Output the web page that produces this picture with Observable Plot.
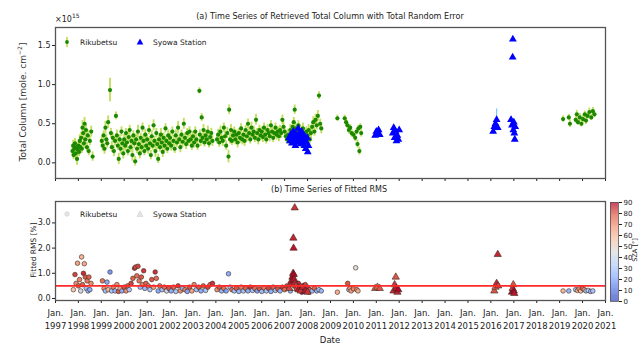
<!DOCTYPE html>
<html><head><meta charset="utf-8">
<script src="https://cdn.jsdelivr.net/npm/d3@7"></script>
<script src="https://cdn.jsdelivr.net/npm/@observablehq/plot@0.6"></script>
<style>
body{margin:0;background:#fff;font-family:"DejaVu Sans",sans-serif;}
#wrap{position:relative;width:640px;height:344px;overflow:hidden;background:#fff;}
.t{position:absolute;white-space:nowrap;color:#222;font-family:"DejaVu Sans",sans-serif;}
</style></head><body><div id="wrap"></div>
<script>
// ---------- DATA ----------
const tickYears = [1997,1998,1999,2000,2001,2002,2003,2004,2005,2006,2007,2008,2009,2010,2011,2012,2013,2014,2015,2016,2017,2018,2019,2020,2021];

// (a) Rikubetsu total column (x1e15 molec cm-2), decimal year
const rikYear = [1997.74,1997.77,1997.79,1997.82,1997.85,1997.88,1997.91,1997.94,1997.97,1998.00,1998.03,1998.06,1998.09,1998.12,1998.15,1998.18,1998.21,1998.24,1998.27,1998.30,1998.33,1998.37,1998.41,1998.45,1998.50,1998.56,1998.62,
1999.02,1999.06,1999.10,1999.14,1999.18,1999.22,1999.26,1999.30,1999.38,1999.42,1999.46,1999.50,1999.55,1999.60,1999.64,1999.68,1999.72,1999.76,1999.80,1999.84,1999.88,1999.92,1999.96,
2000.00,2000.04,2000.08,2000.12,2000.16,2000.20,2000.24,2000.28,2000.32,2000.36,2000.40,2000.44,2000.48,2000.52,2000.56,2000.60,2000.64,2000.68,2000.72,2000.76,2000.80,2000.84,2000.88,2000.92,2000.96,
2001.00,2001.04,2001.08,2001.12,2001.16,2001.20,2001.24,2001.28,2001.32,2001.36,2001.40,2001.44,2001.48,2001.52,2001.56,2001.60,2001.64,2001.68,2001.72,2001.76,2001.80,2001.84,2001.88,2001.92,2001.96,
2002.00,2002.05,2002.10,2002.15,2002.20,2002.25,2002.30,2002.35,2002.40,2002.45,2002.50,2002.55,2002.60,2002.65,2002.70,2002.75,2002.80,2002.85,2002.90,2002.95,
2003.00,2003.05,2003.10,2003.15,2003.20,2003.28,2003.30,2003.34,2003.38,2003.42,2003.46,2003.50,2003.55,2003.60,2003.65,2003.70,2003.75,2003.80,2003.85,
2004.05,2004.10,2004.15,2004.20,2004.25,2004.30,2004.35,2004.40,2004.45,2004.50,2004.55,2004.58,2004.62,2004.66,2004.70,2004.75,2004.80,2004.85,2004.90,2004.95,
2005.00,2005.05,2005.10,2005.15,2005.20,2005.25,2005.30,2005.35,2005.40,2005.45,2005.50,2005.55,2005.60,2005.65,2005.70,2005.75,2005.80,2005.85,2005.90,2005.95,
2006.00,2006.05,2006.10,2006.15,2006.20,2006.25,2006.30,2006.35,2006.40,2006.45,2006.50,2006.55,2006.60,2006.65,2006.70,2006.75,2006.80,2006.85,2006.90,2006.95,
2007.00,2007.05,2007.10,2007.15,2007.20,2007.25,2007.30,2007.35,2007.40,2007.44,2007.48,2007.52,2007.56,2007.60,2007.64,2007.68,2007.72,2007.76,2007.80,2007.85,2007.90,2007.95,
2008.00,2008.05,2008.10,2008.15,2008.20,2008.25,2008.30,2008.35,2008.40,2008.45,2008.50,2008.55,2008.60,
2009.30,2009.62,2009.68,2009.74,2009.80,2009.86,2009.92,2010.00,2010.08,2010.14,2010.18,2010.22,2010.26,2010.30,2010.34,
2019.15,2019.40,2019.45,2019.70,2019.75,2019.80,2019.88,2019.95,2020.02,2020.10,2020.15,2020.22,2020.30,2020.38,2020.45,2020.52];
const rikTC = [0.15,0.22,0.10,0.18,0.25,0.12,0.20,0.05,0.17,0.22,0.14,0.28,0.20,0.32,0.18,0.45,0.38,0.25,0.50,0.30,0.42,0.20,0.35,0.15,0.28,0.40,0.08,
0.28,0.22,0.35,0.18,0.45,0.30,0.25,0.52,0.93,0.38,0.20,0.32,0.15,0.28,0.60,0.35,0.22,0.05,0.30,0.18,0.40,0.25,0.12,
0.30,0.22,0.38,0.26,0.15,0.33,0.42,0.20,0.28,0.10,0.35,0.25,0.02,0.30,0.18,0.40,0.24,0.12,0.32,0.20,0.45,0.28,0.15,0.36,0.22,
0.30,0.18,0.42,0.25,0.10,0.34,0.22,0.48,0.28,0.15,0.38,0.24,0.05,0.30,0.20,0.36,0.26,0.14,0.32,0.22,0.44,0.28,0.18,0.35,0.25,
0.32,0.22,0.40,0.28,0.18,0.35,0.26,0.45,0.30,0.20,0.36,0.27,0.50,0.32,0.24,0.38,0.28,0.40,0.30,0.22,
0.34,0.26,0.40,0.30,0.22,0.92,0.36,0.28,0.58,0.32,0.42,0.26,0.35,0.30,0.40,0.25,0.33,0.38,0.28,
0.30,0.36,0.26,0.40,0.32,0.28,0.45,0.34,0.22,0.38,0.08,0.68,0.30,0.42,0.28,0.35,0.40,0.30,0.36,0.26,
0.38,0.32,0.44,0.30,0.36,0.28,0.42,0.34,0.50,0.38,0.30,0.45,0.36,0.40,0.32,0.55,0.38,0.30,0.42,0.35,
0.40,0.33,0.45,0.36,0.30,0.42,0.38,0.34,0.48,0.40,0.32,0.38,0.45,0.36,0.40,0.34,0.42,0.38,0.55,0.46,
0.40,0.34,0.30,0.36,0.28,0.42,0.38,0.46,0.52,0.68,0.44,0.36,0.40,0.48,0.34,0.42,0.38,0.30,0.44,0.36,0.28,0.40,
0.35,0.42,0.30,0.38,0.46,0.52,0.40,0.55,0.48,0.60,0.86,0.50,0.44,
0.57,0.57,0.52,0.48,0.42,0.45,0.38,0.36,0.32,0.40,0.24,0.44,0.15,0.46,0.38,
0.56,0.58,0.50,0.55,0.62,0.52,0.58,0.50,0.56,0.62,0.54,0.60,0.65,0.58,0.66,0.62];
const rikErr = [0.06,0.07,0.06,0.08,0.06,0.07,0.06,0.08,0.06,0.07,0.06,0.08,0.06,0.07,0.06,0.09,0.07,0.06,0.08,0.06,0.07,0.06,0.07,0.06,0.06,0.07,0.06,
0.06,0.07,0.06,0.07,0.08,0.06,0.06,0.08,0.15,0.06,0.07,0.06,0.07,0.06,0.05,0.07,0.06,0.07,0.06,0.07,0.06,0.06,0.07,
0.06,0.07,0.06,0.08,0.06,0.07,0.06,0.07,0.06,0.08,0.06,0.07,0.06,0.07,0.06,0.08,0.06,0.07,0.06,0.07,0.06,0.08,0.06,0.07,0.06,
0.06,0.07,0.06,0.08,0.06,0.07,0.06,0.07,0.06,0.08,0.06,0.07,0.06,0.07,0.06,0.08,0.06,0.07,0.06,0.07,0.06,0.08,0.06,0.07,0.06,
0.06,0.07,0.06,0.07,0.06,0.07,0.06,0.08,0.06,0.07,0.06,0.07,0.07,0.06,0.07,0.06,0.07,0.06,0.07,0.06,
0.06,0.07,0.06,0.07,0.06,0.04,0.06,0.07,0.05,0.06,0.07,0.06,0.07,0.06,0.07,0.06,0.07,0.06,0.07,
0.06,0.07,0.06,0.07,0.06,0.07,0.06,0.07,0.06,0.07,0.08,0.06,0.06,0.07,0.06,0.07,0.06,0.07,0.06,0.07,
0.06,0.07,0.06,0.07,0.06,0.07,0.06,0.07,0.06,0.07,0.06,0.07,0.06,0.07,0.06,0.07,0.06,0.07,0.06,0.07,
0.06,0.07,0.06,0.07,0.06,0.07,0.06,0.07,0.06,0.07,0.06,0.07,0.06,0.07,0.06,0.07,0.06,0.07,0.06,0.07,
0.06,0.07,0.06,0.07,0.06,0.07,0.06,0.07,0.06,0.06,0.07,0.06,0.07,0.06,0.07,0.06,0.07,0.06,0.07,0.06,0.07,0.06,
0.06,0.07,0.06,0.07,0.06,0.07,0.06,0.07,0.06,0.07,0.05,0.06,0.07,
0.04,0.04,0.05,0.04,0.05,0.04,0.05,0.04,0.05,0.04,0.05,0.04,0.05,0.04,0.05,
0.04,0.04,0.05,0.04,0.05,0.04,0.05,0.04,0.05,0.04,0.05,0.04,0.05,0.04,0.05,0.04];

// (a) Syowa Station total column
const syoYear = [2007.20,2007.23,2007.26,2007.29,2007.32,2007.35,2007.38,2007.41,2007.44,2007.47,2007.50,2007.53,2007.56,2007.59,2007.62,2007.65,2007.68,2007.71,2007.74,2007.77,2007.80,2007.83,2007.86,2007.89,2007.92,2007.95,2007.98,2008.01,2008.04,
2010.95,2011.00,2011.05,2011.10,2011.15,
2011.72,2011.76,2011.80,2011.84,2011.88,2011.92,2011.96,2012.00,
2016.10,2016.15,2016.20,2016.25,2016.30,
2016.88,2016.92,2016.95,2016.96,2016.98,2017.00,2017.02,2017.04,2017.06];
const syoTC = [0.32,0.28,0.36,0.30,0.25,0.34,0.40,0.28,0.32,0.22,0.36,0.30,0.26,0.44,0.33,0.38,0.30,0.24,0.40,0.34,0.28,0.36,0.22,0.30,0.18,0.26,0.32,0.14,0.22,
0.35,0.40,0.38,0.42,0.36,
0.38,0.45,0.32,0.40,0.28,0.35,0.30,0.42,
0.40,0.46,0.50,0.55,0.45,
0.55,0.48,1.35,1.58,0.42,0.52,0.38,0.30,0.46];
const syoErr = [0.03,0.03,0.04,0.03,0.03,0.04,0.03,0.03,0.04,0.03,0.03,0.04,0.03,0.03,0.04,0.03,0.03,0.04,0.03,0.03,0.04,0.03,0.03,0.04,0.03,0.03,0.04,0.03,0.03,
0.03,0.03,0.03,0.03,0.03,
0.03,0.03,0.03,0.03,0.03,0.03,0.03,0.03,
0.03,0.04,0.05,0.14,0.04,
0.04,0.03,0.03,0.03,0.03,0.04,0.03,0.03,0.04];

// (b) Fitted RMS [%] and colour value
const rikRmsYear = [1997.78,1997.85,1997.90,1997.96,1998.00,1998.05,1998.10,1998.14,1998.18,1998.22,1998.26,1998.30,1998.34,1998.38,1998.42,1998.46,1998.50,1998.55,
1999.05,1999.12,1999.18,1999.25,1999.30,1999.38,1999.45,1999.52,1999.60,1999.68,1999.75,1999.82,1999.90,
2000.00,2000.08,2000.15,2000.22,2000.30,2000.38,2000.45,2000.50,2000.55,2000.60,2000.65,2000.70,2000.75,2000.80,2000.85,2000.90,2000.95,
2001.05,2001.12,2001.20,2001.28,2001.35,2001.40,2001.48,2001.55,2001.65,2001.75,2001.85,2001.95,
2002.05,2002.15,2002.25,2002.35,2002.45,2002.55,2002.65,2002.75,2002.85,2002.95,
2003.05,2003.15,2003.25,2003.35,2003.45,2003.55,2003.65,2003.75,2003.85,
2004.05,2004.15,2004.25,2004.35,2004.45,2004.55,2004.62,2004.70,2004.80,2004.90,
2005.00,2005.10,2005.20,2005.30,2005.40,2005.50,2005.60,2005.70,2005.80,2005.90,
2006.00,2006.10,2006.20,2006.30,2006.40,2006.50,2006.60,2006.70,2006.80,2006.90,
2007.00,2007.10,2007.25,2007.50,2007.60,2007.65,2007.70,2007.75,2007.80,2007.85,2007.90,2007.95,
2008.00,2008.05,2008.10,2008.20,2008.30,2008.40,2008.50,2008.60,
2009.30,2009.75,2009.80,2009.85,2009.90,2010.00,2010.10,2010.15,2010.20,
2019.15,2019.40,2019.70,2019.78,2019.85,2019.92,2020.00,2020.08,2020.15,2020.25,2020.35,2020.45];
const rikRms = [0.35,0.95,0.60,1.40,0.50,0.75,0.30,1.65,0.55,1.00,1.38,0.85,0.40,0.70,0.30,0.85,0.35,0.60,
0.70,0.40,0.30,0.65,0.35,1.05,0.30,0.45,0.30,0.55,0.28,0.40,0.30,
0.45,0.30,0.50,0.35,0.60,0.80,1.20,1.25,0.90,1.28,0.70,0.45,0.85,0.55,1.10,0.40,0.60,
0.50,0.35,0.75,0.45,1.05,0.80,0.30,0.50,0.35,0.45,0.30,0.40,
0.30,0.45,0.28,0.50,0.30,0.40,0.35,0.28,0.45,0.30,
0.55,0.35,0.45,0.30,0.50,0.32,0.45,0.55,0.60,
0.35,0.45,0.30,0.40,0.30,0.98,0.45,0.35,0.30,0.40,
0.28,0.45,0.30,0.40,0.30,0.45,0.32,0.40,0.30,0.38,
0.28,0.42,0.30,0.40,0.28,0.45,0.32,0.38,0.30,0.45,
0.35,0.50,0.30,0.45,0.60,0.35,0.50,0.25,0.40,0.30,0.55,0.28,
0.45,0.25,0.35,0.30,0.40,0.30,0.35,0.30,
0.25,0.60,0.35,0.40,0.30,0.38,1.22,0.35,0.30,
0.30,0.30,0.35,0.32,0.38,0.30,0.40,0.35,0.30,0.32,0.28,0.30];
const rikSza = [55,82,70,66,75,72,40,60,78,85,64,80,30,74,25,78,22,70,
75,68,28,22,60,18,30,72,25,70,80,65,22,
80,70,76,30,82,78,84,80,76,82,74,28,80,72,84,25,78,
70,30,80,65,84,76,22,72,28,76,40,80,
22,78,30,82,70,25,74,20,80,65,
72,28,80,22,76,30,82,78,84,
70,80,25,74,20,22,30,76,28,80,
24,72,30,78,22,84,28,76,20,80,
26,74,30,82,22,78,28,80,24,84,
76,80,25,78,86,80,84,88,76,90,82,30,
86,88,80,26,78,22,30,25,
62,80,30,70,65,72,45,68,62,
60,25,30,62,70,58,78,66,28,35,22,30];

const syoRmsYear = [2007.20,2007.25,2007.30,2007.34,2007.37,2007.38,2007.39,2007.40,2007.42,2007.44,2007.45,2007.50,2007.55,2007.60,2007.70,2007.80,2007.90,2008.00,
2010.95,2011.05,2011.15,
2011.75,2011.80,2011.85,2011.88,2011.92,2011.96,
2016.15,2016.20,2016.25,2016.30,2016.32,
2016.92,2016.95,2016.98,2017.00,2017.02];
const syoRms = [0.40,0.55,0.70,0.85,1.00,2.40,2.00,0.95,0.75,3.60,0.60,0.50,0.40,0.35,0.30,0.45,0.30,0.25,
0.40,0.45,0.40,
0.30,0.55,0.85,0.40,0.25,0.35,
0.30,0.45,0.60,1.75,0.50,
0.25,0.40,0.55,0.30,0.20];
const syoSza = [82,86,88,90,88,86,88,90,88,84,86,82,80,88,84,86,88,84,
78,75,80,
86,84,80,88,86,90,
80,76,86,86,82,
88,84,80,90,88];

const rmsThreshold = [0.5];
const cbarTicks = [0,10,20,30,40,50,60,70,80,90];

// ---------- HELPERS ----------
const yd = y => { const f = Math.floor(y); return new Date(Date.UTC(f,0,1) + (y - f) * 365.25 * 864e5); };
const xTicks = tickYears.map(y => new Date(Date.UTC(y,0,1)));
const xDomain = [xTicks[0], xTicks[xTicks.length-1]];
const rik = rikYear.map((y,i) => ({date: yd(y), v: rikTC[i], e: rikErr[i]}));
const syo = syoYear.map((y,i) => ({date: yd(y), v: syoTC[i], e: syoErr[i]}));
const rikR = rikRmsYear.map((y,i) => ({date: yd(y), v: rikRms[i], c: rikSza[i]}));
const syoR = syoRmsYear.map((y,i) => ({date: yd(y), v: syoRms[i], c: syoSza[i]}));
const coolwarm = d3.piecewise(d3.interpolateRgb, ["#3b4cc0","#5d7ce6","#8db0fe","#b9d0f9","#dddddd","#f5c4ac","#f49a7b","#de604d","#b40426"]);
const colorScale = {type:"linear", domain:[0,90], interpolate: coolwarm};
const baseStyle = {fontFamily:"DejaVu Sans, sans-serif", fontSize:"8px", color:"#222", background:"transparent", overflow:"visible"};

const wrap = document.getElementById("wrap");
function place(el, left, top){ el.style.position="absolute"; el.style.left=left+"px"; el.style.top=top+"px"; wrap.appendChild(el); return el; }
function text(str, left, top, size, extra){ const d=document.createElement("div"); d.className="t"; d.innerHTML=str; d.style.fontSize=size+"px"; if(extra) Object.assign(d.style, extra); return place(d,left,top); }

// ---------- PANEL (a) ----------
const pa = Plot.plot({
  width:640, height:190, marginLeft:55, marginRight:35, marginTop:27, marginBottom:12,
  style: baseStyle,
  x:{type:"utc", domain:xDomain},
  y:{domain:[-0.2,1.73]},
  marks:[
    Plot.axisY({ticks:[0,0.5,1,1.5], tickFormat:d3.format(".1f"), tickSize:3, tickPadding:2, label:null, fontSize:8}),
    Plot.axisX({ticks:xTicks, tickFormat:()=>"", tickSize:3, label:null}),
    Plot.ruleX(rik, {x:"date", y1:d=>d.v-d.e, y2:d=>d.v+d.e, stroke:"#c2e060", strokeWidth:1.9}),
    Plot.dot(rik, {x:"date", y:"v", r:2.1, fill:"#1c8800"}),
    Plot.ruleX(syo, {x:"date", y1:d=>d.v-d.e, y2:d=>d.v+d.e, stroke:"#80c8ff", strokeWidth:1.2}),
    Plot.dot(syo, {x:"date", y:"v", r:2.9, symbol:"triangle", fill:"#0000ff"}),
    Plot.frame({stroke:"#555", strokeWidth:1.3})
  ]
});
place(pa, 0, 0);

// ---------- PANEL (b) ----------
const pb = Plot.plot({
  width:640, height:154, marginLeft:55, marginRight:35, marginTop:11, marginBottom:44,
  style: baseStyle,
  x:{type:"utc", domain:xDomain},
  y:{domain:[-0.08,3.85]},
  color: colorScale,
  marks:[
    Plot.axisY({ticks:[0,1,2,3], tickSize:3, tickPadding:2, label:null, fontSize:8}),
    Plot.axisX({ticks:xTicks, tickFormat:d=>"Jan.\n"+d.getUTCFullYear(), tickSize:3, tickPadding:4, label:null, fontSize:8.5, lineHeight:1.45}),
    Plot.dot(rikR, {x:"date", y:"v", r:2.3, fill:"c", stroke:"#3a2a20", strokeWidth:0.6}),
    Plot.dot(syoR, {x:"date", y:"v", r:2.7, symbol:"triangle", fill:"c", stroke:"#3a2a20", strokeWidth:0.6}),
    Plot.ruleY(rmsThreshold, {stroke:"#ff2a2a", strokeWidth:1.6}),
    Plot.frame({stroke:"#555", strokeWidth:1.3})
  ]
});
place(pb, 0, 190);

// ---------- COLORBAR ----------
const ramp = d3.range(0, 90, 0.5);
const cb = Plot.plot({
  width:40, height:120, marginLeft:10, marginRight:22, marginTop:12, marginBottom:9,
  style: baseStyle,
  x:{axis:null, domain:[0,1]},
  y:{domain:[0,90]},
  color: colorScale,
  marks:[
    Plot.rect(ramp, {x1:0, x2:1, y1:d=>d, y2:d=>d+0.5, fill:d=>d+0.25}),
    Plot.axisY({anchor:"right", ticks:cbarTicks, tickSize:3, tickPadding:2, label:null, fontSize:7}),
    Plot.frame({stroke:"#555", strokeWidth:0.8})
  ]
});
place(cb, 600, 190);

// ---------- TEXTS ----------
text("(a) Time Series of Retrieved Total Column with Total Random Error", 330, 11, 8.1, {transform:"translateX(-50%)"});
text("(b) Time Series of Fitted RMS", 329, 185, 8, {transform:"translateX(-50%)"});
text("×10<sup style='font-size:6px;vertical-align:4px'>15</sup>", 55, 12, 8);
text("Total Column [mole. cm<sup style='font-size:6px;vertical-align:4px'>−2</sup>]", 22, 102, 9, {transform:"translate(-50%,-50%) rotate(-90deg)", color:"#333"});
text("Fitted RMS [%]", 33, 250, 7.5, {transform:"translate(-50%,-50%) rotate(-90deg)"});
text("Date", 330, 335, 8.5, {transform:"translateX(-50%)"});
text("SZA [°]", 635, 250, 6.5, {transform:"translate(-50%,-50%) rotate(-90deg)"});

// legends
const legA = `<svg width="150" height="12" style="overflow:visible">
<line x1="7" y1="1" x2="7" y2="11" stroke="#c2e060" stroke-width="1.8"/><circle cx="7" cy="6" r="1.9" fill="#1c8800"/>
<text x="20" y="9" font-size="7.5" fill="#222">Rikubetsu</text>
<path d="M80,2.5 L83.3,8.5 L76.7,8.5 Z" fill="#0000ff"/>
<text x="93" y="9" font-size="7.5" fill="#222">Syowa Station</text></svg>`;
text(legA, 60, 36, 7.5);
const legB = `<svg width="150" height="12" style="overflow:visible">
<circle cx="7" cy="6" r="2.3" fill="#e4e4e4" stroke="#c8c8c8" stroke-width="0.5"/>
<text x="20" y="9" font-size="7.5" fill="#222">Rikubetsu</text>
<path d="M80,3 L83,8.5 L77,8.5 Z" fill="#e4e4e4" stroke="#c8c8c8" stroke-width="0.5"/>
<text x="93" y="9" font-size="7.5" fill="#222">Syowa Station</text></svg>`;
text(legB, 60, 208, 7.5);
</script></body></html>
